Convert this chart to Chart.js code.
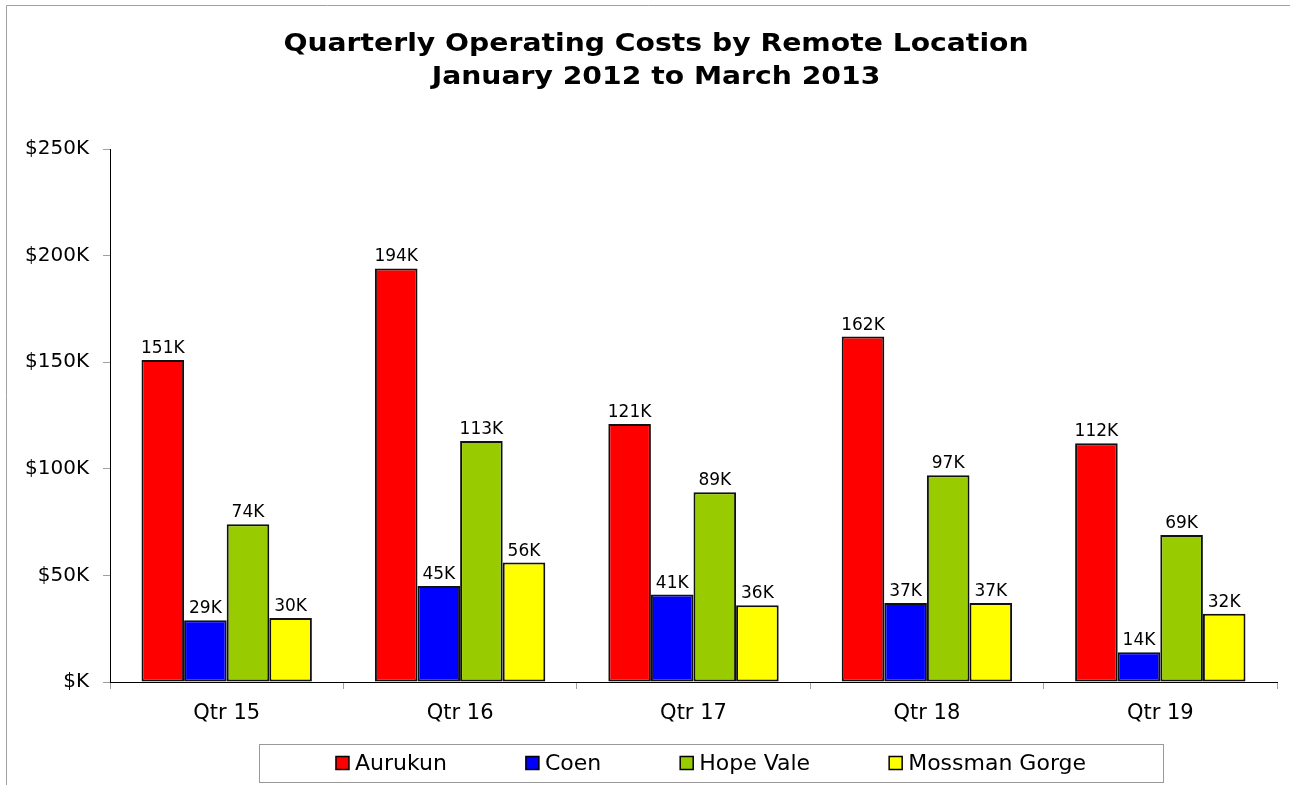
<!DOCTYPE html>
<html>
<head>
<meta charset="utf-8">
<script src="https://cdn.jsdelivr.net/npm/chart.js@4.4.1/dist/chart.umd.min.js"></script>
<style>
  html, body { margin: 0; padding: 0; background: #fff; }
  #wrap { width: 1290px; height: 785px; position: relative; }
</style>
</head>
<body>
<div id="wrap"><canvas id="costChart"></canvas></div>
<script>
/* global Chart */
const titleLines = ["Quarterly Operating Costs by Remote Location", "January 2012 to March 2013"];
const quarters = ["Qtr 15", "Qtr 16", "Qtr 17", "Qtr 18", "Qtr 19"];
const locations = ["Aurukun", "Coen", "Hope Vale", "Mossman Gorge"];
// values in $K
const aurukun = [151, 194, 121, 162, 112];
const coen = [29, 45, 41, 37, 14];
const hopeVale = [74, 113, 89, 97, 69];
const mossmanGorge = [30, 56, 36, 37, 32];
const yTickLabels = ["$K", "$50K", "$100K", "$150K", "$200K", "$250K"];

const colors = ["#ff0000", "#0000ff", "#99cc00", "#ffff00"];
const FONT = "'DejaVu Sans', Verdana, sans-serif";

const $ = (id) => document.getElementById(id);

// frame + title
const framePlugin = {
  id: "frame",
  beforeDraw(chart) {
    const ctx = chart.ctx;
    ctx.save();
    ctx.fillStyle = "#fff";
    ctx.fillRect(0, 0, chart.width, chart.height);
    ctx.strokeStyle = "#a0a0a0";
    ctx.lineWidth = 1;
    ctx.beginPath();
    ctx.moveTo(6.5, chart.height);
    ctx.lineTo(6.5, 5.5);
    ctx.lineTo(chart.width, 5.5);
    ctx.stroke();

    ctx.fillStyle = "#000";
    ctx.font = "bold 25px " + FONT;
    ctx.textAlign = "center";
    ctx.textBaseline = "alphabetic";
    const baselines = [51, 84];
    titleLines.forEach((t, i) => {
      ctx.save();
      ctx.translate(656, baselines[i]);
      ctx.scale(1.13, 1);
      ctx.fillText(t, 0, 0);
      ctx.restore();
    });
    ctx.restore();
  }
};

// value labels above bars
const valueLabels = {
  id: "valueLabels",
  afterDatasetsDraw(chart) {
    const ctx = chart.ctx;
    ctx.save();
    ctx.fillStyle = "#000";
    ctx.font = "17px " + FONT;
    ctx.textAlign = "center";
    ctx.textBaseline = "alphabetic";
    chart.data.datasets.forEach((ds, di) => {
      chart.getDatasetMeta(di).data.forEach((bar, i) => {
        ctx.fillText(ds.data[i] + "K", bar.x, bar.y - 7);
      });
    });
    ctx.restore();
  }
};

// boxed legend under the axis
const boxLegend = {
  id: "boxLegend",
  afterDraw(chart) {
    const ctx = chart.ctx;
    const boxL = 259, boxR = 1163, boxT = 744, boxB = 782;
    const sq = 13, gapText = 6, gapItem = 79;
    ctx.save();
    ctx.font = "22px " + FONT;
    ctx.strokeStyle = "#999";
    ctx.lineWidth = 1;
    ctx.strokeRect(boxL + 0.5, boxT + 0.5, boxR - boxL, boxB - boxT);

    const widths = locations.map(l => ctx.measureText(l).width);
    const total = widths.reduce((a, w) => a + sq + gapText + w, 0) + gapItem * (locations.length - 1);
    let x = (boxL + boxR) / 2 - total / 2;
    const cy = (boxT + boxB) / 2;
    ctx.textBaseline = "middle";
    ctx.textAlign = "left";
    locations.forEach((l, i) => {
      ctx.fillStyle = colors[i];
      ctx.fillRect(x, cy - sq / 2, sq, sq);
      ctx.strokeStyle = "#000";
      ctx.lineWidth = 1.5;
      ctx.strokeRect(x, cy - sq / 2, sq, sq);
      ctx.fillStyle = "#000";
      ctx.fillText(l, x + sq + gapText, cy + 1);
      x += sq + gapText + widths[i] + gapItem;
    });
    ctx.restore();
  }
};

document.addEventListener("DOMContentLoaded", () => {
  const series = [aurukun, coen, hopeVale, mossmanGorge];
  const datasets = series.map((data, i) => ({
    label: locations[i],
    data,
    backgroundColor: colors[i],
    borderColor: "#111",
    borderWidth: 2,
    borderSkipped: false,
    categoryPercentage: 0.73,
    barPercentage: 1.0
  }));

  new Chart($("costChart").getContext("2d"), {
    type: "bar",
    data: { labels: quarters, datasets },
    options: {
      responsive: true,
      maintainAspectRatio: false,
      animation: false,
      layout: { padding: { left: 0, right: 13, top: 149, bottom: 0 } },
      plugins: {
        legend: { display: false },
        title: { display: false },
        tooltip: { enabled: false }
      },
      scales: {
        x: {
          grid: { drawOnChartArea: false, offset: true, tickLength: 7, color: "#a0a0a0" },
          border: { color: "#000", width: 1 },
          ticks: { color: "#000", font: { family: FONT, size: 21 }, padding: 12 },
          afterFit: (s) => { s.height = 103; }
        },
        y: {
          min: 0,
          max: 250,
          grid: { drawOnChartArea: false, tickLength: 7, color: "#a0a0a0" },
          border: { color: "#000", width: 1 },
          ticks: {
            stepSize: 50,
            color: "#000",
            font: { family: FONT, size: 20 },
            padding: 14,
            callback: (v, i) => yTickLabels[i]
          },
          afterFit: (s) => { s.width = 110; }
        }
      }
    },
    plugins: [framePlugin, valueLabels, boxLegend]
  });
});
</script>
</body>
</html>
